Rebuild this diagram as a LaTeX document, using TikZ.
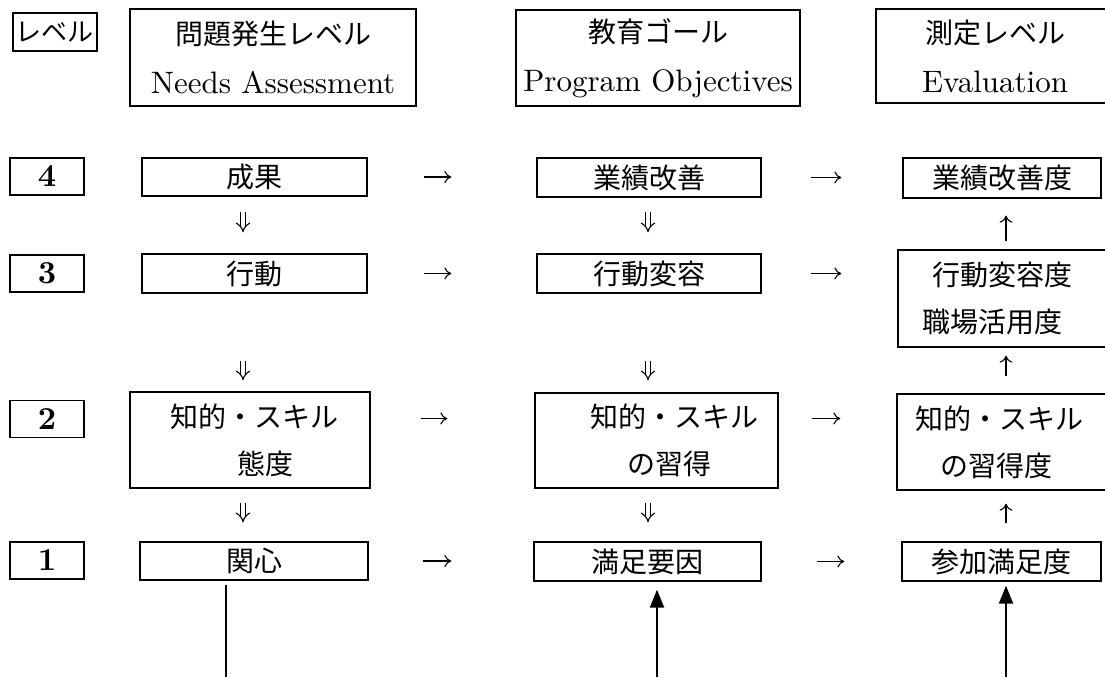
\documentclass[tikz,border=0pt]{standalone}
\usepackage{fontspec}
\setmainfont{lmroman10-regular}[Extension=.otf, BoldFont=lmroman10-bold]
\newfontfamily\jpf{Noto Sans CJK JP}
\usetikzlibrary{arrows.meta}
\begin{document}
\begin{tikzpicture}[x=1pt,y=-1pt,
  box/.style={draw, line width=1.3pt, inner sep=0pt, font=\jpf\fontsize{28}{47}\selectfont},
  twoline/.style={box, align=left, inner xsep=10pt},
  hdr/.style={draw, line width=1.3pt, inner sep=0pt, align=center, font=\fontsize{31}{49}\selectfont},
  numbox/.style={draw, line width=1.3pt, inner sep=0pt, minimum width=74pt, minimum height=37pt, font=\bfseries\fontsize{32}{32}\selectfont},
  harr/.style={line width=1.1pt, -{To[length=7pt,width=12pt]}},
  darr/.style={double, double distance=4pt, line width=1.1pt, -{Implies[length=7pt,width=16pt]}},
  uarr/.style={line width=1.1pt, -{To[length=7pt,width=13pt]}},
  stem/.style={line width=2.2pt},
  bigarr/.style={line width=2.2pt, -{Triangle[length=18pt,width=14pt]}}
]
\useasboundingbox (0,0) rectangle (1105,677);

% headers
\node[box, minimum width=84pt, minimum height=38pt, font=\jpf\fontsize{26}{26}\selectfont] (lv) at (55,32) {レベル};
\node[hdr, minimum width=286pt, minimum height=97pt] (h1) at (273,57.5) {{\jpf\fontsize{28}{49}\selectfont 問題発生レベル}\\Needs Assessment};
\node[hdr, minimum width=284pt, minimum height=96pt] (h2) at (658,58) {{\jpf\fontsize{28}{49}\selectfont 教育ゴール}\\Program Objectives};
\node[hdr, minimum width=238pt, minimum height=94pt] (h3) at (995,56) {{\jpf\fontsize{28}{49}\selectfont 測定レベル}\\Evaluation};

% level numbers
\node[numbox] (n4) at (47,176.5) {4};
\node[numbox] (n3) at (47,273.5) {3};
\node[numbox] (n2) at (47,419) {2};
\node[numbox] (n1) at (47,560.5) {1};

% left column
\node[box, minimum width=225pt, minimum height=38pt] (L4) at (254.5,177) {成果};
\node[box, minimum width=225pt, minimum height=39pt] (L3) at (254.5,273.5) {行動};
\node[twoline, text width=220pt, minimum height=96pt] (L2) at (250,440) {\hspace*{30pt}知的・スキル\\\hspace*{97pt}態度};
\node[box, minimum width=228pt, minimum height=38pt] (L1) at (254,561) {関心};

% middle column
\node[box, minimum width=224pt, minimum height=39pt] (M4) at (649,177.5) {業績改善};
\node[box, minimum width=224pt, minimum height=39pt] (M3) at (649,273.5) {行動変容};
\node[twoline, text width=223pt, minimum height=95pt] (M2) at (656.5,440.5) {\hspace*{45pt}知的・スキル\\\hspace*{82pt}の習得};
\node[box, minimum width=227pt, minimum height=39pt] (M1) at (647.5,561.5) {満足要因};

% right column
\node[box, minimum width=198pt, minimum height=40pt] (R4) at (1002,178) {業績改善度};
\node[twoline, text width=207pt, minimum height=97pt] (R3) at (1011.5,298.5) {\hspace*{24pt}行動変容度\\\hspace*{14pt}職場活用度};
\node[twoline, text width=208pt, minimum height=96pt] (R2) at (1011,442) {\hspace*{8pt}知的・スキル\\\hspace*{33pt}の習得度};
\node[box, minimum width=199pt, minimum height=39pt] (R1) at (1001.5,561.5) {参加満足度};

% helper coordinates
\coordinate (cl) at (243,0);
\coordinate (cm) at (648,0);
\coordinate (cr) at (1006,0);
\coordinate (bl) at (226,677);
\coordinate (bm) at (657,677);
\coordinate (br) at (1006,677);
\coordinate (a2) at ([yshift=21.5pt]L2.east);

% horizontal arrows
\draw[harr, shorten <=56pt, shorten >=85pt] (L4.east) -- (L4.east -| M4.west);
\draw[harr, shorten <=49pt, shorten >=61pt] (M4.east) -- (M4.east -| R4.west);
\draw[harr, shorten <=56pt, shorten >=85pt] (L3.east) -- (L3.east -| M3.west);
\draw[harr, shorten <=49pt, shorten >=56pt] (M3.east) -- (M3.east -| R3.west);
\draw[harr, shorten <=50pt, shorten >=87pt] (a2) -- (a2 -| M2.west);
\draw[harr, shorten <=33pt, shorten >=56pt] (M2.east |- a2) -- (a2 -| R2.west);
\draw[harr, shorten <=54pt, shorten >=82pt] (L1.east) -- (L1.east -| M1.west);
\draw[harr, shorten <=55pt, shorten >=57pt] (M1.east) -- (M1.east -| R1.west);

% double down arrows
\draw[darr, shorten <=15pt, shorten >=21pt] (L4.south -| cl) -- (L3.north -| cl);
\draw[darr, shorten <=67pt, shorten >=11pt] (L3.south -| cl) -- (L2.north -| cl);
\draw[darr, shorten <=14pt, shorten >=19pt] (L2.south -| cl) -- (L1.north -| cl);
\draw[darr, shorten <=14pt, shorten >=21pt] (M4.south -| cm) -- (M3.north -| cm);
\draw[darr, shorten <=67pt, shorten >=12pt] (M3.south -| cm) -- (M2.north -| cm);
\draw[darr, shorten <=14pt, shorten >=19pt] (M2.south -| cm) -- (M1.north -| cm);

% up arrows
\draw[uarr, shorten <=8pt, shorten >=17pt] (R3.north -| cr) -- (R4.south -| cr);
\draw[uarr, shorten <=17pt, shorten >=8pt] (R2.north -| cr) -- (R3.south -| cr);
\draw[uarr, shorten <=18pt, shorten >=13pt] (R1.north -| cr) -- (R2.south -| cr);

% bottom lines
\draw[stem, shorten <=4pt] (L1.south -| bl) -- (bl);
\draw[bigarr, shorten >=8pt] (bm) -- (bm |- M1.south);
\draw[bigarr, shorten >=4pt] (br) -- (br |- R1.south);
\end{tikzpicture}
\end{document}
